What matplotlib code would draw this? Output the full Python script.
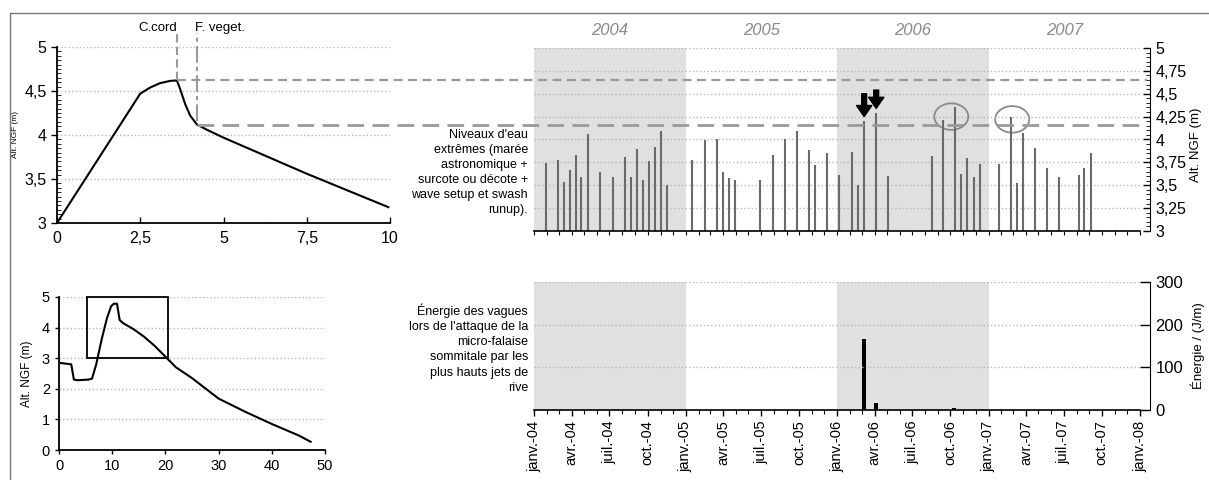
import numpy as np
import matplotlib
matplotlib.use('Agg')
import matplotlib.pyplot as plt
import matplotlib.dates as mdates
from matplotlib import patches, ticker, transforms
from matplotlib.lines import Line2D

plt.rcParams['font.family'] = ['Liberation Sans', 'DejaVu Sans']

# profil zoome (haut gauche)
profil_x = [0, 2.5, 2.8, 3.1, 3.4, 3.6, 3.7, 3.85, 4.0, 4.2, 4.5, 5, 7.5, 9.95]
profil_z = [3, 4.47, 4.54, 4.59, 4.615, 4.62, 4.52, 4.35, 4.22, 4.12, 4.06, 3.97, 3.56, 3.18]

# profil complet (bas gauche)
plage_x = [0, 2.3, 2.8, 3.5, 5.5, 6.2, 7, 8, 9, 9.8, 10.3, 10.9, 11.4, 12, 14, 16, 18, 20,
           22, 25, 30, 35, 40, 45, 47.3]
plage_z = [2.85, 2.8, 2.3, 2.28, 2.3, 2.33, 2.8, 3.6, 4.3, 4.7, 4.78, 4.78, 4.25, 4.15,
           3.95, 3.7, 3.4, 3.05, 2.7, 2.35, 1.68, 1.25, 0.85, 0.48, 0.27]

crete = 4.62      # C.cord
vegetation = 4.11  # F. veget.
x_crete = 3.6
x_veget = 4.2

# niveaux d'eau extremes
dates_niveaux = ['2004-01-29', '2004-02-27', '2004-03-14', '2004-03-28', '2004-04-12',
                 '2004-04-24', '2004-05-11', '2004-06-09', '2004-07-09', '2004-08-08',
                 '2004-08-22', '2004-09-05', '2004-09-20', '2004-10-04', '2004-10-19',
                 '2004-11-01', '2004-11-17',
                 '2005-01-17', '2005-02-16', '2005-03-17', '2005-04-01', '2005-04-15',
                 '2005-04-30', '2005-06-29', '2005-07-29', '2005-08-27', '2005-09-25',
                 '2005-10-24', '2005-11-08', '2005-12-08',
                 '2006-01-06', '2006-02-06', '2006-02-20', '2006-03-07', '2006-04-05',
                 '2006-05-04', '2006-08-17', '2006-09-14', '2006-10-12', '2006-10-27',
                 '2006-11-10', '2006-11-27', '2006-12-11',
                 '2007-01-27', '2007-02-24', '2007-03-11', '2007-03-24', '2007-04-23',
                 '2007-05-22', '2007-06-20', '2007-08-06', '2007-08-20', '2007-09-04']
niveaux = [3.74, 3.78, 3.54, 3.67, 3.83, 3.59, 4.06, 3.64, 3.59, 3.81, 3.59, 3.90, 3.56,
           3.76, 3.92, 4.09, 3.50,
           3.78, 3.99, 4.01, 3.65, 3.58, 3.56, 3.56, 3.83, 4.00, 4.09, 3.89, 3.72, 3.85,
           3.61, 3.86, 3.50, 4.20, 4.29, 3.60, 3.82, 4.21, 4.35, 3.62, 3.80, 3.59, 3.73,
           3.73, 4.25, 3.52, 4.07, 3.91, 3.69, 3.59, 3.61, 3.69, 3.85]

# energie des vagues
dates_energie = ['2006-03-07', '2006-04-05', '2006-10-10']
energie = [166, 16, 4]

annees = [2004, 2005, 2006, 2007]
annees_grisees = [2004, 2006]
mois_labels = ['janv.', 'avr.', 'juil.', 'oct.']

d_niv = mdates.date2num(np.array(dates_niveaux, dtype='datetime64[D]'))
d_ene = mdates.date2num(np.array(dates_energie, dtype='datetime64[D]'))

W, H = 1209, 480
fig = plt.figure(figsize=(W / 100, H / 100), dpi=100)

def box(x0, y0, x1, y1):
    return [x0 / W, 1 - y1 / H, (x1 - x0) / W, (y1 - y0) / H]

virgule = ticker.FuncFormatter(lambda v, _: f"{v:g}".replace('.', ','))
gris_grille = '#b8b8b8'

# cadre exterieur
fig.add_artist(patches.Rectangle((10 / W, -0.1), 1.2, (H - 13) / H + 0.1,
                                 transform=fig.transFigure, fill=False,
                                 edgecolor='#777777', lw=1))

# ---- haut gauche
ax1 = fig.add_axes(box(57, 47, 390, 223))
ax1.plot(profil_x, profil_z, color='black', lw=1.5)
ax1.set_xlim(0, 10)
ax1.set_ylim(3, 5)
ax1.set_xticks([0, 2.5, 5, 7.5, 10])
ax1.set_yticks([3, 3.5, 4, 4.5, 5])
ax1.yaxis.set_minor_locator(ticker.MultipleLocator(0.05))
ax1.xaxis.set_major_formatter(virgule)
ax1.yaxis.set_major_formatter(virgule)
ax1.tick_params(labelsize=11.5, length=4, width=1)
ax1.tick_params(axis='x', direction='in', pad=6)
ax1.tick_params(axis='y', which='minor', direction='in', length=3, width=0.6)
for s in ['top', 'right']:
    ax1.spines[s].set_visible(False)
for s in ['left', 'bottom']:
    ax1.spines[s].set_linewidth(1.3)
ax1.grid(axis='y', ls=':', color=gris_grille, lw=1)
ax1.set_ylabel('Alt. NGF (m)', fontsize=6, labelpad=4)
ax1.plot([x_crete, x_crete], [crete, 5.16], ls=(0, (4, 2)), color='#999999', lw=1.5,
         clip_on=False)
ax1.plot([x_veget, x_veget], [vegetation + 0.05, 5.16], ls=(0, (8, 2, 2, 2)), color='#999999',
         lw=1.5, clip_on=False)
ax1.text(x_crete, 5.22, 'C.cord', ha='right', va='center', fontsize=9.5)
ax1.text(x_veget - 0.05, 5.22, 'F. veget.', ha='left', va='center', fontsize=9.5)

# ---- haut droite
ax2 = fig.add_axes(box(534, 48, 1140, 231))
for a in annees_grisees:
    ax2.axvspan(mdates.date2num(np.datetime64(f'{a}-01-01')),
                mdates.date2num(np.datetime64(f'{a + 1}-01-01')), color='#e0e0e0', lw=0)
ax2.vlines(d_niv, 3, niveaux, color='#6a6a6a', lw=1.5)
ax2.set_ylim(3, 5)
ax2.set_xlim(mdates.date2num(np.datetime64('2004-01-01')),
             mdates.date2num(np.datetime64('2008-01-01')))
ax2.yaxis.tick_right()
ax2.set_yticks(np.arange(3, 5.01, 0.25))
ax2.yaxis.set_minor_locator(ticker.MultipleLocator(0.05))
ax2.yaxis.set_major_formatter(virgule)
ax2.xaxis.set_major_locator(mdates.MonthLocator())
ax2.xaxis.set_major_formatter(ticker.NullFormatter())
ax2.tick_params(axis='x', length=3, width=0.8)
ax2.tick_params(axis='y', labelsize=11.5, direction='in', length=5, width=1, pad=4)
ax2.tick_params(axis='y', which='minor', direction='in', length=3, width=0.6)
for s in ['top', 'left']:
    ax2.spines[s].set_visible(False)
ax2.spines['right'].set_position(('outward', 7))
ax2.spines['bottom'].set_linewidth(1.2)
ax2.grid(axis='y', ls=':', color=gris_grille, lw=1)
ax2.yaxis.set_label_position('right')
ax2.set_ylabel('Alt. NGF (m)', fontsize=9.5)
ax2.yaxis.set_label_coords(1.083, 0.47)
trans_annee = transforms.blended_transform_factory(ax2.transData, ax2.transAxes)
for a in annees:
    milieu = mdates.date2num(np.datetime64(f'{a}-07-02'))
    ax2.text(milieu, 1.098, str(a), transform=trans_annee, ha='center', va='center',
             fontsize=12, style='italic', color='#8a8a8a')
ax2.text(-0.01, 0.32, "Niveaux d'eau\nextrêmes (marée\nastronomique +\nsurcote ou décote +\n"
         "wave setup et swash\nrunup).", transform=ax2.transAxes, ha='right', va='center',
         fontsize=9, linespacing=1.35)

# fleches et cercles
for d, v, dy in [(d_niv[33], 4.25, 0.25), (d_niv[34], 4.34, 0.2)]:
    ax2.annotate('', xy=(d, v), xytext=(d, v + dy),
                 arrowprops=dict(facecolor='black', edgecolor='black', width=3.5, headwidth=11,
                                 headlength=8))
for d, v in [('2006-10-03', 4.25), ('2007-02-27', 4.22)]:
    ax2.add_patch(patches.Ellipse((mdates.date2num(np.datetime64(d)), v), 82, 0.29,
                                  fill=False, edgecolor='#8a8a8a', lw=1.3))

# lignes horizontales (cordon, vegetation)
fx0 = fig.transFigure.inverted().transform(ax1.transData.transform((x_crete, crete)))[0]
fx1 = fig.transFigure.inverted().transform(ax1.transData.transform((x_veget, vegetation)))[0]
fx_fin = (1147) / W
tr = transforms.blended_transform_factory(fig.transFigure, ax1.transData)
fig.add_artist(Line2D([fx0, fx_fin], [crete, crete], transform=tr, color='#9a9a9a', lw=1.6,
                      ls=(0, (4, 2.5))))
fig.add_artist(Line2D([fx1, fx_fin], [vegetation, vegetation], transform=tr, color='#9a9a9a',
                      lw=2, ls=(0, (6, 3))))

# ---- bas gauche
ax3 = fig.add_axes(box(59, 297, 325, 450))
ax3.plot(plage_x, plage_z, color='black', lw=1.5)
ax3.add_patch(patches.Rectangle((5.3, 3), 15.1, 2, fill=False, edgecolor='black', lw=1.3,
                                clip_on=False, zorder=3))
ax3.set_xlim(0, 50)
ax3.set_ylim(0, 5)
ax3.set_xticks(range(0, 51, 10))
ax3.set_yticks(range(0, 6))
ax3.tick_params(labelsize=10.5, length=3, width=1)
for s in ['top', 'right']:
    ax3.spines[s].set_visible(False)
for s in ['left', 'bottom']:
    ax3.spines[s].set_linewidth(1.3)
ax3.grid(axis='y', ls=':', color=gris_grille, lw=1)
ax3.set_ylabel('Alt. NGF (m)', fontsize=8.5, labelpad=6)

# ---- bas droite
ax4 = fig.add_axes(box(534, 282, 1140, 410))
for a in annees_grisees:
    ax4.axvspan(mdates.date2num(np.datetime64(f'{a}-01-01')),
                mdates.date2num(np.datetime64(f'{a + 1}-01-01')), color='#e0e0e0', lw=0)
ax4.bar(d_ene, energie, width=9, color='black')
ax4.set_ylim(0, 300)
ax4.set_xlim(ax2.get_xlim())
ax4.yaxis.tick_right()
ax4.set_yticks([0, 100, 200, 300])
ax4.tick_params(axis='y', labelsize=12, direction='in', length=7, width=1, pad=4)
ax4.xaxis.set_major_locator(mdates.MonthLocator(bymonth=[1, 4, 7, 10]))
ax4.xaxis.set_minor_locator(mdates.MonthLocator())
ax4.xaxis.set_major_formatter(ticker.FuncFormatter(
    lambda v, _: f"{mois_labels[(mdates.num2date(v).month - 1) // 3]}-{mdates.num2date(v).year % 100:02d}"))
ax4.tick_params(axis='x', labelsize=10.5, rotation=90, length=4, width=1)
ax4.tick_params(axis='x', which='minor', length=3, width=0.8)
for s in ['top', 'left']:
    ax4.spines[s].set_visible(False)
ax4.spines['right'].set_position(('outward', 7))
ax4.spines['bottom'].set_linewidth(1.2)
ax4.grid(axis='y', ls=':', color=gris_grille, lw=1)
ax4.yaxis.set_label_position('right')
ax4.set_ylabel('Énergie / (J/m)', fontsize=9.5)
ax4.yaxis.set_label_coords(1.083, 0.5)
ax4.text(-0.01, 0.48, "Énergie des vagues\nlors de l'attaque de la\nmicro-falaise\n"
         "sommitale par les\nplus hauts jets de\nrive", transform=ax4.transAxes, ha='right',
         va='center', fontsize=9, linespacing=1.35)

fig.savefig('out.png', dpi=100)
